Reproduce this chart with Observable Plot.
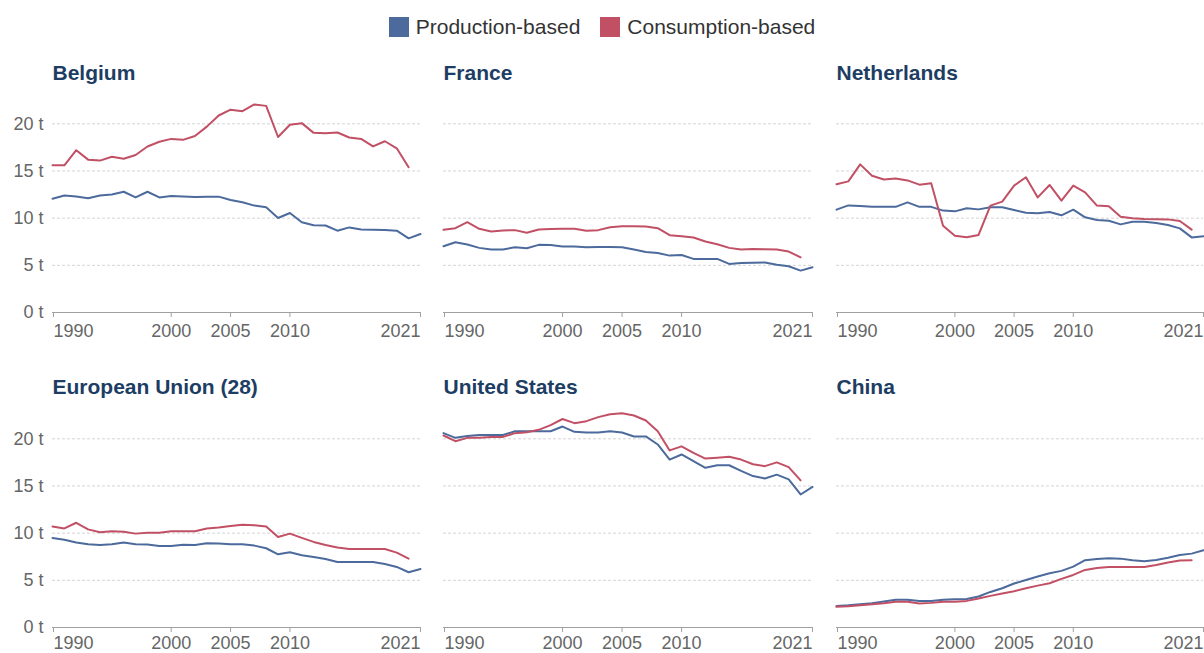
<!DOCTYPE html>
<html>
<head>
<meta charset="utf-8">
<script src="https://cdn.jsdelivr.net/npm/d3@7"></script>
<script src="https://cdn.jsdelivr.net/npm/@observablehq/plot@0.6"></script>
<style>
  html, body { margin: 0; padding: 0; background: #fff; overflow: hidden; }
  body { font-family: "Liberation Sans", Arial, sans-serif; width: 1204px; height: 653px; position: relative; }
  #legend { position: absolute; left: 0; top: 17px; width: 1204px; display: flex; justify-content: center; align-items: center; height: 20px; }
  .item { display: flex; align-items: center; font-size: 21px; color: #333; }
  .item + .item { margin-left: 20px; }
  .sw { width: 20px; height: 20px; margin-right: 7px; }
  .panel { position: absolute; }
  .panel svg { overflow: visible; display: block; }
</style>
</head>
<body>
<div id="legend"></div>
<div id="panels"></div>
<script>
// ---- Data (tonnes CO2 per person) ----
const years = [1990,1991,1992,1993,1994,1995,1996,1997,1998,1999,2000,2001,2002,2003,2004,2005,2006,2007,2008,2009,2010,2011,2012,2013,2014,2015,2016,2017,2018,2019,2020,2021];
const countries = ["Belgium", "France", "Netherlands", "European Union (28)", "United States", "China"];
const seriesNames = ["Production-based", "Consumption-based"];
const seriesColors = ["#4c6a9c", "#c15065"];
const yTickValues = [0, 5, 10, 15, 20];
const xTickValues = [1990, 2000, 2005, 2010, 2021];

const belgiumProd = [12.06,12.4,12.3,12.1,12.4,12.5,12.8,12.2,12.8,12.2,12.35,12.3,12.25,12.28,12.28,11.93,11.68,11.33,11.15,10.02,10.55,9.56,9.24,9.22,8.67,9.02,8.8,8.77,8.75,8.67,7.86,8.32];
const belgiumCons = [15.6,15.6,17.2,16.2,16.1,16.5,16.3,16.7,17.6,18.1,18.4,18.3,18.7,19.7,20.88,21.5,21.34,22.05,21.9,18.6,19.9,20.07,19.04,19.0,19.08,18.55,18.4,17.6,18.15,17.4,15.4];

const franceProd = [7.02,7.45,7.2,6.85,6.67,6.67,6.92,6.81,7.17,7.15,7.0,7.0,6.92,6.95,6.95,6.92,6.67,6.42,6.3,6.03,6.1,5.68,5.68,5.68,5.15,5.25,5.28,5.31,5.07,4.9,4.44,4.8];
const franceCons = [8.77,8.94,9.57,8.87,8.59,8.7,8.73,8.45,8.8,8.84,8.87,8.87,8.66,8.73,9.04,9.15,9.15,9.12,8.94,8.19,8.09,7.95,7.52,7.23,6.85,6.67,6.74,6.7,6.67,6.46,5.85];

const netherlandsProd = [10.9,11.35,11.3,11.2,11.2,11.2,11.67,11.2,11.2,10.8,10.72,11.04,10.93,11.15,11.15,10.86,10.58,10.51,10.65,10.3,10.9,10.09,9.8,9.73,9.34,9.62,9.62,9.48,9.27,8.92,7.96,8.07];
const netherlandsCons = [13.6,13.9,15.7,14.5,14.1,14.2,14.0,13.55,13.7,9.2,8.14,7.97,8.22,11.33,11.75,13.45,14.33,12.2,13.52,11.86,13.45,12.74,11.33,11.26,10.16,9.98,9.9,9.88,9.87,9.7,8.78];

const euProd = [9.49,9.31,9.0,8.82,8.75,8.82,9.0,8.82,8.8,8.64,8.64,8.78,8.75,8.92,8.9,8.82,8.82,8.68,8.4,7.76,7.97,7.65,7.48,7.27,6.95,6.95,6.95,6.95,6.74,6.42,5.86,6.2];
const euCons = [10.7,10.5,11.1,10.4,10.1,10.2,10.15,9.95,10.05,10.05,10.2,10.2,10.2,10.5,10.6,10.75,10.9,10.85,10.7,9.6,9.95,9.5,9.07,8.75,8.47,8.32,8.32,8.32,8.32,7.94,7.3];

const usProd = [20.6,20.1,20.3,20.4,20.4,20.4,20.8,20.8,20.8,20.8,21.3,20.74,20.67,20.67,20.8,20.67,20.25,20.25,19.4,17.8,18.34,17.64,16.93,17.2,17.2,16.6,16.05,15.8,16.2,15.7,14.1,14.9];
const usCons = [20.35,19.75,20.1,20.1,20.2,20.2,20.6,20.7,20.95,21.45,22.1,21.66,21.87,22.3,22.6,22.7,22.47,21.94,20.8,18.77,19.2,18.5,17.9,18.0,18.1,17.8,17.3,17.1,17.5,17.0,15.6];

const chinaProd = [2.29,2.36,2.47,2.57,2.75,2.93,2.93,2.82,2.82,2.93,3.0,3.03,3.28,3.77,4.16,4.66,5.04,5.4,5.75,6.0,6.45,7.13,7.27,7.34,7.3,7.13,7.02,7.16,7.4,7.69,7.83,8.18];
const chinaCons = [2.19,2.26,2.36,2.47,2.57,2.72,2.72,2.54,2.61,2.72,2.72,2.82,3.07,3.35,3.6,3.84,4.16,4.44,4.69,5.15,5.57,6.1,6.31,6.42,6.42,6.42,6.42,6.63,6.88,7.09,7.13];

const prodSeries = [belgiumProd, franceProd, netherlandsProd, euProd, usProd, chinaProd];
const consSeries = [belgiumCons, franceCons, netherlandsCons, euCons, usCons, chinaCons];

// ---- Legend ----
const legend = document.getElementById("legend");
seriesNames.forEach((name, i) => {
  const item = document.createElement("div");
  item.className = "item";
  const sw = document.createElement("div");
  sw.className = "sw";
  sw.style.background = seriesColors[i];
  const label = document.createElement("span");
  label.textContent = name;
  item.appendChild(sw);
  item.appendChild(label);
  legend.appendChild(item);
});

// ---- Panels ----
const colLeft = [0, 420, 812];
const colWidth = [421, 393, 392];
const colMarginLeft = [52, 23, 24];
const rowTop = [50, 365];
const rowHeight = [295, 288];
const rowMarginBottom = [33, 26];
const rowTitleDy = [-16, -17];
const rowTickPadding = [7, 4];
const font = "'Liberation Sans', Arial, sans-serif";

const container = document.getElementById("panels");

countries.forEach((name, k) => {
  const col = k % 3, row = Math.floor(k / 3);
  const data = [];
  prodSeries[k].forEach((v, i) => data.push({year: years[i], value: v, series: seriesNames[0]}));
  consSeries[k].forEach((v, i) => data.push({year: years[i], value: v, series: seriesNames[1]}));

  const axisCommon = {tickSize: 5, tickPadding: rowTickPadding[row], stroke: "#a0a0a0", fill: "#666", fontSize: 18, tickFormat: d => String(d), label: null};
  const marks = [
    Plot.ruleY([5, 10, 15, 20], {stroke: "#d4d4d4", strokeDasharray: "3,2"}),
    Plot.line(data, {x: "year", y: "value", z: "series", stroke: "series", strokeWidth: 2}),
    Plot.ruleY([0], {stroke: "#a0a0a0"}),
    Plot.axisX([xTickValues[0]], {...axisCommon, textAnchor: "start", dx: 1}),
    Plot.axisX(xTickValues.slice(1, -1), {...axisCommon}),
    Plot.axisX([xTickValues[xTickValues.length - 1]], {...axisCommon, textAnchor: "end"}),
    Plot.text([name], {text: d => d, frameAnchor: "top-left", lineAnchor: "bottom", textAnchor: "start", dy: rowTitleDy[row], fontSize: 21, fontWeight: "bold", fill: "#1d3d63"})
  ];
  if (col === 0) {
    marks.push(Plot.axisY(yTickValues, {tickSize: 0, tickPadding: 9, tickFormat: d => d + " t", fill: "#666", fontSize: 18, label: null}));
  }

  const chart = Plot.plot({
    width: colWidth[col],
    height: rowHeight[row],
    marginLeft: colMarginLeft[col],
    marginRight: 1,
    marginTop: 45,
    marginBottom: rowMarginBottom[row],
    x: {domain: [1990, 2021], label: null, axis: null},
    y: {domain: [0, 23], label: null, axis: null},
    color: {domain: seriesNames, range: seriesColors},
    style: {fontFamily: font, background: "transparent", overflow: "visible"},
    marks
  });

  const div = document.createElement("div");
  div.className = "panel";
  div.style.left = colLeft[col] + "px";
  div.style.top = rowTop[row] + "px";
  div.appendChild(chart);
  container.appendChild(div);
});
</script>
</body>
</html>
